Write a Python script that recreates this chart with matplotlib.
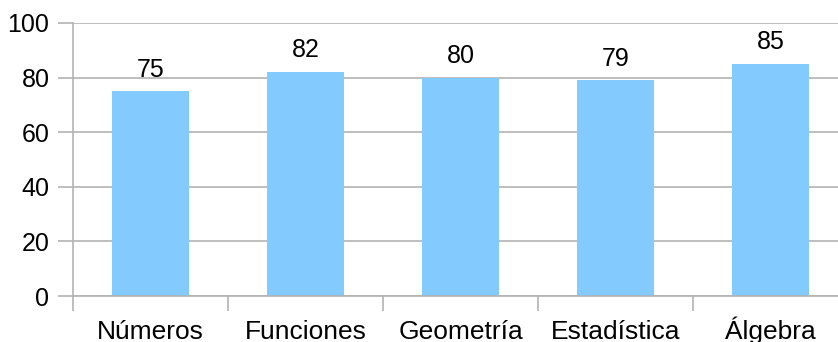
import numpy as np
import matplotlib
matplotlib.use("Agg")
import matplotlib.pyplot as plt

plt.rcParams["font.family"] = ["Liberation Sans", "DejaVu Sans"]

categories = ["Números", "Funciones", "Geometría", "Estadística", "Álgebra"]
scores = [75, 82, 80, 79, 85]

BAR = "#83caff"
GRID = "#b3b3b3"

fig = plt.figure(figsize=(8.38, 3.42), dpi=100)
ax = fig.add_axes([73 / 838, 46 / 342, 775 / 838, 273 / 342])

xs = np.arange(len(categories))
ax.bar(xs, scores, width=0.5, color=BAR, zorder=2)
for x, v in zip(xs, scores):
    ax.annotate(str(v), (x, v), xytext=(0, 7), textcoords="offset points",
                ha="center", va="bottom", fontsize=18)

ax.set_xlim(-0.5, len(categories) - 0.5)
ax.set_ylim(0, 100)
ax.set_yticks(range(0, 101, 20))
ax.yaxis.grid(True, color=GRID, lw=1.2, zorder=0)

ax.set_xticks(xs)
ax.set_xticklabels(categories)
for lbl in ax.get_xticklabels():
    lbl.set_va("baseline")
ax.set_xticks(np.arange(len(categories)) - 0.5, minor=True)
ax.tick_params(axis="x", which="major", length=0, pad=31, labelsize=19)
ax.tick_params(axis="x", which="minor", length=11, color=GRID, width=1.2)
ax.tick_params(axis="y", length=11, color=GRID, width=1.2, pad=6, labelsize=18)

for s in ("top", "right"):
    ax.spines[s].set_visible(False)
for s in ("left", "bottom"):
    ax.spines[s].set_color(GRID)
    ax.spines[s].set_linewidth(1.2)

fig.savefig("out.png", dpi=100)
